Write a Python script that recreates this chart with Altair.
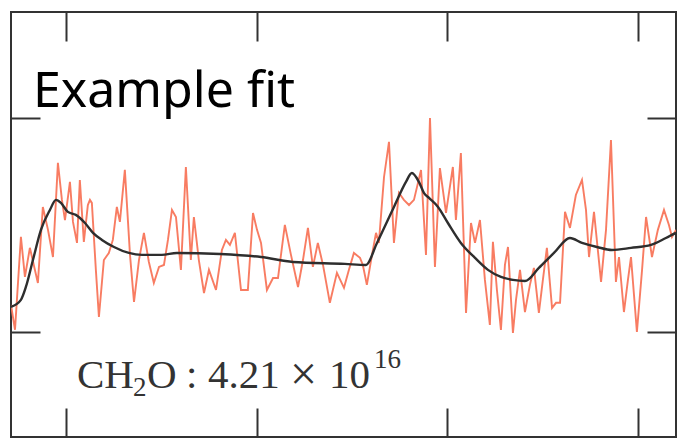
import altair as alt
import pandas as pd

# Measured spectrum (wavelength in nm, differential optical depth, arbitrary units)
obs_wl = [
    327.12, 327.33, 327.64, 327.85, 328.11, 328.53, 328.79, 329.06, 329.32, 329.58,
    329.79, 329.95, 330.21, 330.37, 330.58, 330.73, 330.94, 331.15, 331.26, 331.36,
    331.57, 331.73, 331.99, 332.25, 332.46, 332.67, 332.83, 333.09, 333.36, 333.57,
    333.83, 334.09, 334.35, 334.61, 334.88, 335.14, 335.35, 335.56, 335.77, 336.03,
    336.29, 336.55, 336.71, 336.97, 337.24, 337.50, 337.87, 338.18, 338.39, 338.60,
    338.86, 339.18, 339.54, 339.81, 340.02, 340.23, 340.54, 340.86, 341.12, 341.48,
    341.80, 342.17, 342.43, 342.69, 342.95, 343.21, 343.48, 343.84, 344.21, 344.58,
    344.84, 345.10, 345.42, 345.57, 345.78, 346.05, 346.26, 346.41, 346.68, 346.94,
    347.20, 347.46, 347.72, 347.99, 348.25, 348.62, 348.88, 349.09, 349.35, 349.61,
    349.93, 350.29, 350.45, 350.71, 350.98, 351.24, 351.45, 351.71, 351.97, 352.23,
    352.39, 352.60, 352.81, 353.02, 353.18, 353.44, 353.60, 353.81, 354.07, 354.33,
    354.54, 354.80, 355.01, 355.22, 355.49, 355.70, 355.91, 356.17, 356.43, 356.74,
    357.06, 357.27, 357.43, 357.69, 358.06, 358.32, 358.58, 358.84, 359.00, 359.26,
    359.47, 359.63, 359.94, 360.21, 360.42, 360.73, 361.04, 361.36, 361.62, 361.78,
    361.99,
]
obs_od = [
    0.126, 0.010, 0.444, 0.257, 0.393, 0.229, 0.584, 0.477, 0.350, 0.790,
    0.617, 0.523, 0.701, 0.514, 0.416, 0.710, 0.421, 0.593, 0.617, 0.603,
    0.290, 0.070, 0.336, 0.369, 0.430, 0.584, 0.514, 0.757, 0.360, 0.140,
    0.336, 0.463, 0.327, 0.229, 0.304, 0.313, 0.430, 0.570, 0.537, 0.290,
    0.771, 0.336, 0.537, 0.336, 0.182, 0.290, 0.196, 0.383, 0.430, 0.407,
    0.463, 0.196, 0.196, 0.556, 0.477, 0.416, 0.196, 0.252, 0.252, 0.500,
    0.360, 0.210, 0.336, 0.486, 0.304, 0.416, 0.313, 0.136, 0.276, 0.206,
    0.290, 0.369, 0.346, 0.313, 0.220, 0.360, 0.463, 0.416, 0.724, 0.888,
    0.416, 0.650, 0.617, 0.593, 0.617, 0.757, 0.360, 1.000, 0.304, 0.766,
    0.556, 0.771, 0.523, 0.836, 0.089, 0.509, 0.416, 0.523, 0.243, 0.033,
    0.421, 0.196, 0.009, 0.313, 0.397, -0.005, 0.150, 0.290, 0.093, 0.220,
    0.299, 0.089, 0.243, 0.393, 0.112, 0.136, 0.136, 0.561, 0.486, 0.640,
    0.710, 0.570, 0.350, 0.561, 0.234, 0.477, 0.897, 0.234, 0.350, 0.093,
    0.243, 0.350, 0.000, 0.290, 0.537, 0.350, 0.477, 0.570, 0.500, 0.444,
    0.477,
]

# Fitted model
fit_wl = [
    327.12, 327.64, 327.90, 328.27, 328.69, 329.16, 329.48, 329.74, 330.10, 330.52,
    331.00, 331.42, 331.89, 332.52, 333.30, 333.99, 335.03, 335.82, 338.08, 340.23,
    341.90, 344.63, 345.73, 346.31, 347.20, 347.83, 348.14, 348.51, 348.77, 349.04,
    349.51, 350.03, 350.71, 351.45, 352.13, 352.81, 353.44, 354.07, 354.80, 355.59,
    356.43, 357.06, 357.85, 358.63, 359.63, 360.68, 361.46, 361.99,
]
fit_od = [
    0.117, 0.150, 0.210, 0.336, 0.477, 0.570, 0.617, 0.603, 0.561, 0.547,
    0.509, 0.463, 0.430, 0.397, 0.369, 0.360, 0.360, 0.369, 0.364, 0.350,
    0.327, 0.318, 0.313, 0.416, 0.584, 0.701, 0.743, 0.701, 0.650, 0.626,
    0.584, 0.509, 0.416, 0.346, 0.290, 0.257, 0.243, 0.238, 0.299, 0.369,
    0.439, 0.416, 0.397, 0.383, 0.393, 0.407, 0.439, 0.463,
]

x_ticks = [330, 340, 350, 360]
y_ticks = [0, 1]

obs = pd.DataFrame({"wl": obs_wl, "od": obs_od})
fit = pd.DataFrame({"wl": fit_wl, "od": fit_od})

x_scale = alt.Scale(domain=[327.12, 361.99], nice=False, zero=False)
y_scale = alt.Scale(domain=[-0.491, 1.495], nice=False, zero=False)

FRAME = "#333333"
TICK = 29


def inward_axis(orient, values):
    return alt.Axis(
        orient=orient, values=values, labels=False, domain=False, grid=False,
        ticks=True, tickSize=TICK, tickWidth=2, tickColor=FRAME,
        offset=-TICK, title=None,
    )


measured = alt.Chart(obs).mark_line(
    color="#f8755a", strokeWidth=1.9, opacity=0.95, clip=True
).encode(
    x=alt.X("wl:Q", scale=x_scale, axis=inward_axis("bottom", x_ticks)),
    y=alt.Y("od:Q", scale=y_scale, axis=inward_axis("left", y_ticks)),
)

model = alt.Chart(fit).mark_line(
    color="#2e2e2e", strokeWidth=2.4, interpolate="monotone", clip=True
).encode(
    x=alt.X("wl:Q", scale=x_scale, axis=inward_axis("top", x_ticks)),
    y=alt.Y("od:Q", scale=y_scale, axis=inward_axis("right", y_ticks)),
)

title = alt.Chart().mark_text(
    text="Example fit", font="Comic Sans MS, Noto Sans", fontSize=50,
    align="left", baseline="alphabetic", color="black"
).encode(x=alt.value(22), y=alt.value(95))

serif = "Liberation Serif"
ink = "#333333"


def label(txt, x, y, size=41):
    return alt.Chart().mark_text(
        text=txt, font=serif, fontSize=size, align="left",
        baseline="alphabetic", color=ink
    ).encode(x=alt.value(x), y=alt.value(y))


species = alt.layer(
    label("CH", 66, 376),
    label("2", 122, 384, 27),
    label("O", 136, 376),
    label(":", 175, 376),
    label("4.21", 197, 376),
    label("\u00d7", 279, 378, 48),
    label("10", 318, 376),
    label("16", 363, 356, 27),
)

chart = alt.layer(measured, model, title, species).resolve_axis(
    x="independent", y="independent"
).properties(
    width=665, height=425,
    autosize=alt.AutoSizeParams(type="none"),
    padding={"left": 11, "top": 12, "right": 1, "bottom": 3},
    background="white",
).configure_view(stroke=FRAME, strokeWidth=2)

chart.save("out.html", embed_options={"renderer": "svg", "actions": False})
